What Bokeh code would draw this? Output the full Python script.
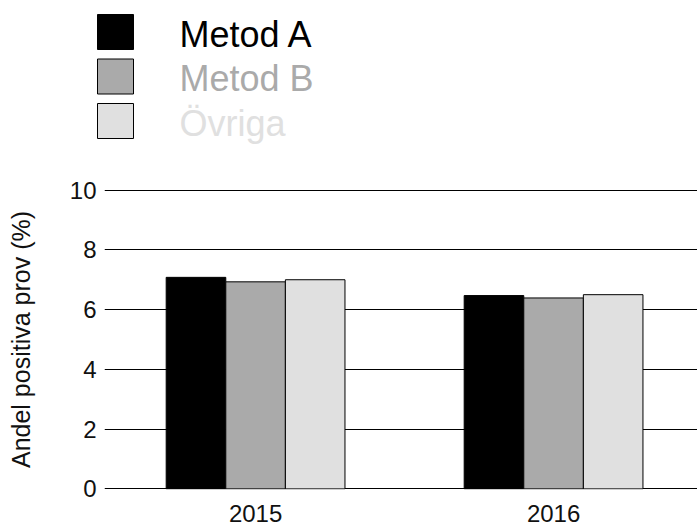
from bokeh.plotting import figure
from bokeh.layouts import column, row
from bokeh.models import Range1d, FixedTicker, ColumnDataSource
from bokeh.core.properties import value
from bokeh.embed import file_html
from bokeh.resources import INLINE

# ---- data ----
years = ["2015", "2016"]
series = ["Metod A", "Metod B", "Övriga"]
metod_a = [7.08, 6.47]
metod_b = [6.93, 6.39]
ovriga = [7.0, 6.5]
colors = ["#000000", "#aaaaaa", "#e0e0e0"]
y_ticks = [0, 2, 4, 6, 8, 10]
y_label = "Andel positiva prov (%)"

FONT = "Liberation Sans"
W = 697

# ---- legend figure (pixel coordinates) ----
LH = 165
leg = figure(width=W, height=LH, x_range=Range1d(0, W), y_range=Range1d(LH, 0),
             output_backend="svg", toolbar_location=None, min_border=0)
leg.axis.visible = False
leg.grid.visible = False
leg.outline_line_color = None
gap = 44.5
ys = [31.5 + i * gap for i in range(len(series))]
leg_src = ColumnDataSource(dict(x=[115] * len(series), y=ys, tx=[179] * len(series),
                                ty=[y + 2 for y in ys], label=series, color=colors))
leg.rect(x="x", y="y", width=36, height=35, fill_color="color", line_color="black",
         line_width=1, source=leg_src)
leg.text(x="tx", y="ty", text="label", text_color="color", text_font=value(FONT),
         text_font_size="36px", text_baseline="middle", text_align="left", source=leg_src)

# ---- main figure ----
p = figure(width=W, height=532 - LH, x_range=Range1d(-0.507, 1.483), y_range=Range1d(-0.02, 10.02),
           output_backend="svg", toolbar_location=None,
           min_border_left=104, min_border_top=24, min_border_bottom=43, min_border_right=0)
p.outline_line_color = None
xs = list(range(len(years)))
bw = 0.2
for i, (vals, c) in enumerate(zip([metod_a, metod_b, ovriga], colors)):
    off = (i - 1) * bw
    p.vbar(x=[x + off for x in xs], top=vals, bottom=0, width=bw, fill_color=c,
           line_color="black", line_width=1)

p.xgrid.visible = False
p.ygrid.grid_line_color = "black"
p.ygrid.grid_line_width = 1
p.ygrid.ticker = FixedTicker(ticks=y_ticks)

p.yaxis.ticker = FixedTicker(ticks=y_ticks)
p.xaxis.ticker = FixedTicker(ticks=xs)
p.xaxis.major_label_overrides = {i: y for i, y in enumerate(years)}
for ax in (p.xaxis, p.yaxis):
    ax.axis_line_color = None
    ax.major_tick_line_color = None
    ax.minor_tick_line_color = None
    ax.major_tick_out = 0
    ax.major_tick_in = 0
    ax.minor_tick_out = 0
    ax.major_label_text_font = FONT
    ax.major_label_text_font_size = "24px"
    ax.major_label_text_color = "#111111"
p.yaxis.major_label_standoff = 8
p.xaxis.major_label_standoff = 15
p.yaxis.axis_label = y_label
p.yaxis.axis_label_text_font = FONT
p.yaxis.axis_label_text_font_size = "25px"
p.yaxis.axis_label_text_font_style = "normal"
p.yaxis.axis_label_text_color = "#111111"
p.yaxis.axis_label_standoff = 32

layout = column(row(leg), p, spacing=0)
open("out.html", "w").write(file_html(layout, INLINE))
